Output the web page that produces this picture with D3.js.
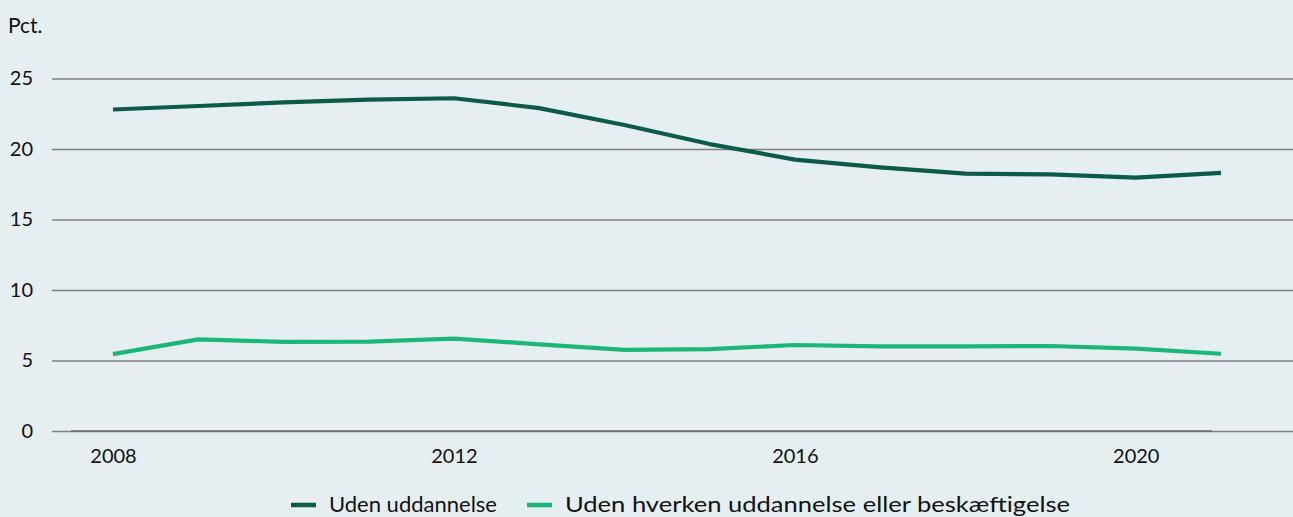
<!DOCTYPE html>
<html><head><meta charset="utf-8">
<script src="https://cdn.jsdelivr.net/npm/d3@7"></script>
<style>
html,body{margin:0;padding:0;background:#e5eef1;}
svg{display:block;font-family:Lato,"Open Sans",sans-serif;}
</style></head>
<body><svg id="c" width="1293" height="517"></svg>
<script>
const years = [2008,2009,2010,2011,2012,2013,2014,2015,2016,2017,2018,2019,2020,2021];
const udenUddannelse = [22.8,23.05,23.3,23.5,23.6,22.9,21.7,20.35,19.25,18.7,18.25,18.2,17.97,18.3];
const udenHverken = [5.45,6.5,6.32,6.34,6.55,6.15,5.75,5.8,6.1,6.0,6.0,6.03,5.84,5.48];
const yTicks = [0,5,10,15,20,25];
const xTicks = [2008,2012,2016,2020];
const seriesNames = ["Uden uddannelse","Uden hverken uddannelse eller beskæftigelse"];
const colors = ["#0b5a4c","#1cb777"];

const svg = d3.select("#c");
const W = 1293;
svg.append("rect").attr("width",W).attr("height",517).attr("fill","#e5eef1");
const x = d3.scaleLinear().domain([2008,2021]).range([113,1221]);
const y = d3.scaleLinear().domain([0,25]).range([431,78.5]);

// gridlines
const yAxis = d3.axisLeft(y).tickValues(yTicks).tickSize(-(W-52)).tickPadding(19).tickFormat(d3.format("d"));
const gy = svg.append("g").attr("transform","translate(52,0)").call(yAxis);
gy.select(".domain").remove();
gy.selectAll(".tick line").attr("stroke","#7f7f7f").attr("stroke-width",1.3);
gy.selectAll(".tick text").attr("font-size",20).attr("fill","#111").attr("font-family","Lato,'Open Sans',sans-serif");

// x axis
const xAxis = d3.axisBottom(x).tickValues(xTicks).tickSize(0).tickPadding(18).tickFormat(d3.format("d"));
const gx = svg.append("g").attr("transform","translate(0,431)").call(xAxis);
gx.select(".domain").remove();
gx.selectAll(".tick text").attr("font-size",20).attr("fill","#111").attr("font-family","Lato,'Open Sans',sans-serif");
// darker zero line segment
svg.append("line").attr("x1",71).attr("x2",1212).attr("y1",y(0)).attr("y2",y(0)).attr("stroke","#6a6a6a").attr("stroke-width",1.6);

svg.append("text").attr("x",8).attr("y",33).attr("font-size",21).attr("fill","#111").text("Pct.");

const line = d3.line().x((d,i)=>x(years[i])).y(d=>y(d));
[udenUddannelse,udenHverken].forEach((s,k)=>{
  svg.append("path").datum(s).attr("d",line).attr("fill","none")
    .attr("stroke",colors[k]).attr("stroke-width",4.2).attr("stroke-linejoin","round");
});

// legend
const leg = svg.append("g");
const items = [{x:291,w:168,name:seriesNames[0],c:colors[0]},{x:527,w:505,name:seriesNames[1],c:colors[1]}];
items.forEach(it=>{
  leg.append("line").attr("x1",it.x).attr("x2",it.x+25).attr("y1",505).attr("y2",505)
    .attr("stroke",it.c).attr("stroke-width",4.5);
  leg.append("text").attr("x",it.x+38).attr("y",511.5).attr("font-size",21.5).attr("fill","#111")
    .attr("textLength",it.w).attr("lengthAdjust","spacingAndGlyphs").text(it.name);
});
</script></body></html>
